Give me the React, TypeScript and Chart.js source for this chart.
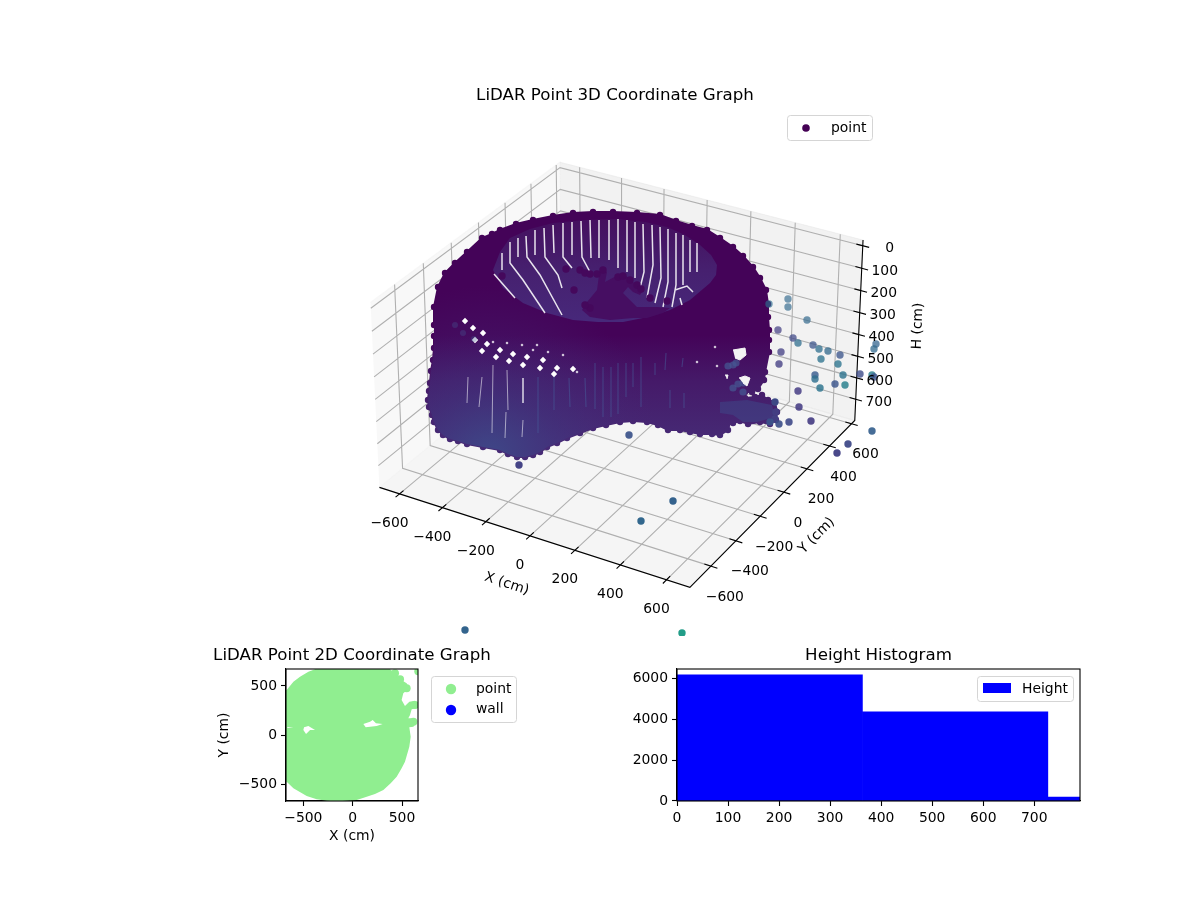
import { useEffect, useRef } from 'react';
import { Chart, registerables } from 'chart.js';

Chart.register(...registerables);
Chart.defaults.font.family = '"DejaVu Sans", sans-serif';
Chart.defaults.color = '#000';

type Pair = [number, number];

// axis ticks and limits of the 3D box (H axis runs downwards)
const xTicks = [-600, -400, -200, 0, 200, 400, 600];
const yTicks = [-600, -400, -200, 0, 200, 400, 600];
const hTicks = [0, 100, 200, 300, 400, 500, 600, 700];
const xLim: Pair = [-695, 700];
const yLim: Pair = [-764, 630];
const hLim: Pair = [800, -25];

// the dense cloud in view-plane units of the 3D plot
const bodyOutline: Pair[] = [
  [-187, 39], [-187, 57], [-183, 77], [-176, 91], [-166, 101], [-154, 112], [-139, 126], [-129, 130],
  [-121, 134], [-105, 140], [-88, 144], [-68, 148], [-48, 151], [-28, 152], [-8, 152], [16, 151],
  [39, 149], [55, 143], [71, 138], [86, 134], [99, 126], [112, 117], [122, 108], [132, 97],
  [139, 86], [145, 74], [147, 60], [147, 47], [148, 34], [148, 24], [148, 12], [144, -8],
  [143, -16], [137, -25], [131, -28], [124, -28], [121, -31], [124, -34], [134, -33], [141, -31],
  [147, -36], [154, -38], [156, -48], [155, -56], [149, -60], [139, -58], [127, -60], [119, -57],
  [112, -59], [106, -61], [107, -66], [99, -71], [91, -70], [79, -70], [69, -68], [59, -66],
  [47, -66], [37, -61], [26, -58], [12, -57], [-1, -58], [-15, -61], [-28, -64], [-41, -69],
  [-54, -74], [-64, -79], [-74, -83], [-81, -88], [-88, -91], [-96, -93], [-104, -93], [-113, -90],
  [-121, -86], [-138, -83], [-154, -80], [-163, -77], [-171, -75], [-178, -71], [-183, -66], [-187, -58],
  [-189, -51], [-192, -43], [-193, -36], [-192, -27], [-191, -19], [-190, -7], [-188, 4], [-187, 16], [-187, 28],
];
const holeOutline: Pair[] = [
  [-111, 126], [-91, 135], [-68, 141], [-36, 144], [-4, 145], [24, 142], [46, 137], [64, 129],
  [79, 119], [90, 109], [96, 99], [95, 89], [89, 81], [69, 64], [49, 54], [27, 47],
  [2, 42], [-23, 42], [-48, 44], [-74, 51], [-98, 61], [-118, 76], [-128, 94], [-121, 112],
];
const moundOutline: Pair[] = [
  [-21, 96], [-14, 92], [-16, 82], [-3, 89], [2, 91], [12, 82], [22, 74], [19, 69], [12, 72], [7, 77],
  [2, 71], [16, 57], [36, 57], [49, 56], [42, 51], [26, 46], [12, 46], [-11, 44], [-31, 47], [-39, 54],
  [-34, 62], [-24, 74],
];
const moundDots: Pair[] = [
  [-55, 95], [-47, 74], [-41, 94], [-36, 91], [-31, 90], [-24, 90], [-18, 94], [-119, 88], [29, 66], [46, 63],
  [-3, 87], [2, 88], [9, 84], [16, 79], [20, 75], [-31, 56], [-36, 59],
];
const holeStreaks: Pair[][] = [
  [[-127, 90], [-106, 66]],
  [[-119, 111], [-119, 94]],
  [[-111, 122], [-111, 101], [-98, 84], [-76, 51]],
  [[-103, 126], [-103, 107]],
  [[-95, 128], [-94, 107], [-81, 89], [-59, 49]],
  [[-86, 134], [-86, 109]],
  [[-77, 136], [-76, 107], [-63, 89], [-59, 76]],
  [[-68, 139], [-67, 111]],
  [[-58, 141], [-58, 107], [-49, 96]],
  [[-49, 142], [-49, 109]],
  [[-40, 143], [-39, 107], [-31, 92]],
  [[-31, 144], [-30, 106]],
  [[-22, 144], [-22, 106]],
  [[-12, 144], [-12, 104]],
  [[-3, 145], [-3, 96]],
  [[6, 144], [6, 92]],
  [[14, 142], [14, 86]],
  [[22, 140], [23, 92], [19, 76]],
  [[31, 139], [32, 99], [26, 66]],
  [[39, 137], [40, 86], [34, 61]],
  [[47, 135], [47, 82], [42, 57]],
  [[55, 131], [55, 79], [51, 57]],
  [[62, 129], [62, 79]],
  [[69, 124], [69, 92]],
  [[76, 121], [76, 92]],
  [[54, 74], [66, 78], [72, 72]],
  [[59, 66], [61, 59]],
];
const wallGapsLarge: Pair[] = [
  [-156, 43], [-148, 36], [-138, 31], [-146, 24], [-134, 20], [-139, 13], [-121, 14], [-125, 7], [-108, 10],
  [-112, 3], [-94, 7], [-98, -1], [-78, 4], [-81, -4], [-64, -4], [-48, -5], [-67, -10],
];
const wallGapsSmall: Pair[] = [
  [-84, 19], [-99, 19], [-114, 21], [-88, 14], [-73, 12], [-58, 9], [-44, -8], [-128, 22], [96, -2], [94, 17], [76, 2],
];
const wallWhiteStreaks: Pair[][] = [
  [[-128, -1], [-129, -69]],
  [[-115, -48], [-116, -74]],
  [[-139, -13], [-142, -43]],
  [[-153, -13], [-154, -39]],
  [[-114, -6], [-113, -46]],
  [[-98, -14], [-98, -39]],
  [[-98, -56], [-99, -73]],
];
const wallBlueStreaks: Pair[][] = [
  [[-83, -13], [-83, -69]], [[-67, -11], [-67, -46]], [[-52, -14], [-51, -43]], [[-36, -14], [-35, -43]],
  [[-26, 1], [-26, -45]], [[-18, -3], [-18, -53]], [[-10, -3], [-10, -53]], [[-3, 1], [-3, -50]],
  [[5, 1], [5, -33]], [[12, 1], [12, -23]], [[20, 7], [20, -43]], [[34, 1], [34, -11]], [[45, 11], [44, -6]],
  [[49, -26], [49, -44]], [[62, 6], [61, -3]], [[63, -29], [63, -44]],
];
const bayGaps: Pair[][] = [
  [[112, 14], [124, 16], [125, 9], [119, 4], [114, 6]],
  [[118, -14], [124, -12], [129, -14], [126, -22], [122, -19]],
  [[104, -11], [107, -11], [106, -15]],
];
const bayDots: Pair[] = [[112, -1], [115, 1], [107, -2], [117, -20], [122, -19], [122, -28], [112, -24]];
const wallDots: Pair[] = [[-166, 39], [-158, 31], [-147, 25]];
const noseOutline: Pair[] = [
  [99, -38], [126, -36], [151, -41], [154, -53], [136, -58], [122, -58], [112, -51], [99, -49],
];

// scattered points away from the cloud: view-plane position and height tone
const outlierX = [
  167, 167, 148, 186, 157, 172, 177, 192, 198, 207, 255, 253, 160, 158, 219, 200, 217, 194, 194, 222, 239, 251,
  253, 214, 224, 199, 177, 178, 154, 155, 154, 149, 158, 168, 190, 251, 227, 216, 52, 20, -102, 8, -156, 61,
];
const outlierY = [
  65, 57, 60, 44, 34, 26, 21, 19, 15, 13, 20, 15, 12, 0, 9, 5, 0, -11, -15, -11, -10, -11,
  -13, -20, -21, -24, -27, -43, -38, -48, -55, -58, -60, -58, -57, -67, -80, -89, -137, -157, -101, -71, -266, -269,
];
const outlierTone = [
  0.34, 0.34, 0.36, 0.34, 0.18, 0.22, 0.36, 0.26, 0.36, 0.34, 0.32, 0.34, 0.18, 0.18, 0.26, 0.38, 0.38, 0.28, 0.36, 0.38, 0.23, 0.42,
  0.24, 0.26, 0.43, 0.38, 0.17, 0.17, 0.24, 0.19, 0.19, 0.26, 0.24, 0.22, 0.17, 0.3, 0.22, 0.19, 0.31, 0.33, 0.19, 0.25, 0.32, 0.55,
];

// 2D footprint in cm
const footprint: Pair[] = [
  [-736, 459], [-669, 459], [-601, 544], [-534, 595], [-449, 646], [-382, 670], [-382, 731], [378, 731], [378, 670],
  [429, 629], [480, 568], [547, 527], [574, 476], [513, 425], [496, 357], [530, 296], [574, 340], [632, 350],
  [665, 306], [648, 272], [598, 262], [581, 204], [564, 170], [588, 170], [655, 136], [615, 85], [574, 78],
  [588, -17], [574, -119], [530, -272], [496, -340], [446, -425], [385, -493], [311, -561], [226, -602], [142, -629],
  [41, -663], [-61, -670], [-162, -677], [-263, -670], [-365, -656], [-466, -622], [-601, -544], [-669, -476], [-736, -476],
];
const footprintHoles: Pair[][] = [
  [[-493, 78], [-449, 92], [-382, 51], [-432, 51], [-473, 10], [-500, 51]],
  [[-662, 82], [-601, 82], [-662, 71]],
  [[108, 112], [176, 136], [203, 153], [236, 119], [304, 112], [243, 92], [176, 85], [132, 78]],
];
const footprintBumps: Pair[] = [[429, 629], [480, 568], [547, 476], [632, 306], [615, 136], [665, 650]];
const flatTicks = [-500, 0, 500];

// height histogram
const binCenters = [181.65, 544.95, 908.25];
const binCounts = [6161, 4352, 196];
const histXTicks = [0, 100, 200, 300, 400, 500, 600, 700];
const histYTicks = [0, 2000, 4000, 6000];

const TICK_FONT = '13.9px "DejaVu Sans"';
const TITLE_FONT = '16.67px "DejaVu Sans"';

const toPts = (list: Pair[]) => list.map(([x, y]) => ({ x, y }));
const withBreaks = (lines: { x: number; y: number }[][]) =>
  lines.flatMap((l) => [...l, { x: NaN, y: NaN }]);

// same camera as a default mplot3d view: elev 30, azim -60, dist 10
function project(x: number, y: number, h: number) {
  const qx = ((x - xLim[0]) / (xLim[1] - xLim[0]) - 0.5) * 1.19;
  const qy = ((y - yLim[0]) / (yLim[1] - yLim[0]) - 0.5) * 1.19;
  const qz = ((h - hLim[0]) / (hLim[1] - hLim[0]) - 0.5) * 0.71;
  const u = 0.866 * qx + 0.5 * qy;
  const v = -0.25 * qx + 0.433 * qy + 0.866 * qz;
  const d = 10 - (0.433 * qx - 0.75 * qy + 0.5 * qz);
  return { x: 0.5 + (2975 * u) / d, y: 0.4 + (2970 * v) / d };
}

const viridisStops = ['#440154', '#482475', '#414487', '#355f8d', '#2a788e', '#21918c', '#22a884', '#44bf70', '#7ad151', '#bddf26', '#fde725'];
function viridis(t: number, alpha: number) {
  const p = Math.min(Math.max(t, 0), 1) * 10;
  const i = Math.min(Math.floor(p), 9);
  const rgb = (s: string) => [1, 3, 5].map((k) => parseInt(s.slice(k, k + 2), 16));
  const a = rgb(viridisStops[i]);
  const b = rgb(viridisStops[i + 1]);
  const c = a.map((va, k) => Math.round(va + (b[k] - va) * (p - i)));
  return `rgba(${c[0]},${c[1]},${c[2]},${alpha})`;
}

function legendFrame(ctx: CanvasRenderingContext2D, x: number, y: number, w: number, h: number) {
  ctx.beginPath();
  ctx.roundRect(x + 0.5, y + 0.5, w, h, 3);
  ctx.fillStyle = 'rgba(255,255,255,0.8)';
  ctx.fill();
  ctx.strokeStyle = '#d5d5d5';
  ctx.lineWidth = 1;
  ctx.stroke();
}

function text(ctx: CanvasRenderingContext2D, s: string, x: number, y: number, font = TICK_FONT, align: CanvasTextAlign = 'center', rot = 0) {
  ctx.save();
  ctx.translate(x, y);
  ctx.rotate((rot * Math.PI) / 180);
  ctx.font = font;
  ctx.fillStyle = '#000';
  ctx.textAlign = align;
  ctx.textBaseline = 'middle';
  ctx.fillText(s, 0, 1);
  ctx.restore();
}

const minus = (v: number) => (v < 0 ? `\u2212${-v}` : `${v}`);

// text of the 3D axes, placed from the chart's own scales
const box3dText = {
  id: 'box3dText',
  afterDraw(chart: any) {
    const { ctx, scales } = chart;
    const put = (p: { x: number; y: number }, dx: number, dy: number, s: string) =>
      text(ctx, s, scales.x.getPixelForValue(p.x) + dx, scales.y.getPixelForValue(p.y) + dy);
    xTicks.forEach((t) => put(project(t, yLim[0], hLim[0]), -10, 28.5, minus(t)));
    yTicks.forEach((t) => put(project(xLim[1], t, hLim[0]), 14, 30, minus(t)));
    hTicks.forEach((t) => put(project(xLim[1], yLim[1], t), t === 0 ? 27 : 23, 2, `${t}`));
    text(ctx, 'LiDAR Point 3D Coordinate Graph', 615, 95, TITLE_FONT);
    text(ctx, 'X (cm)', 507, 583, TICK_FONT, 'center', 18);
    text(ctx, 'Y (cm)', 816, 535, TICK_FONT, 'center', -45);
    text(ctx, 'H (cm)', 917, 326, TICK_FONT, 'center', -88);
    legendFrame(ctx, 787, 115, 85, 25);
    ctx.beginPath();
    ctx.arc(806, 128, 3.8, 0, Math.PI * 2);
    ctx.fillStyle = '#440154';
    ctx.fill();
    text(ctx, 'point', 831, 127, TICK_FONT, 'left');
  },
};

const frameBox = {
  id: 'frameBox',
  afterDatasetsDraw(chart: any) {
    const { ctx, chartArea: a } = chart;
    ctx.save();
    ctx.strokeStyle = '#000';
    ctx.lineWidth = 1.1;
    ctx.strokeRect(a.left, a.top, a.right - a.left, a.bottom - a.top);
    ctx.restore();
  },
};

const flatLegend = {
  id: 'flatLegend',
  afterDraw(chart: any) {
    const { ctx } = chart;
    text(ctx, 'LiDAR Point 2D Coordinate Graph', 185, 15, TITLE_FONT);
    legendFrame(ctx, 264, 36, 85, 46);
    ctx.beginPath();
    ctx.arc(284, 49, 5.2, 0, Math.PI * 2);
    ctx.fillStyle = 'lightgreen';
    ctx.fill();
    ctx.beginPath();
    ctx.arc(284, 70, 5.2, 0, Math.PI * 2);
    ctx.fillStyle = 'blue';
    ctx.fill();
    text(ctx, 'point', 309, 48, TICK_FONT, 'left');
    text(ctx, 'wall', 309, 68, TICK_FONT, 'left');
  },
};

const histLegend = {
  id: 'histLegend',
  afterDraw(chart: any) {
    const { ctx } = chart;
    legendFrame(ctx, 357, 36, 96, 25);
    ctx.fillStyle = 'blue';
    ctx.fillRect(363, 43, 28, 10);
    text(ctx, 'Height', 402, 48, TICK_FONT, 'left');
  },
};

function cloudConfig(canvas: HTMLCanvasElement) {
  const g = canvas.getContext('2d')!;
  const bodyFill = g.createLinearGradient(0, 335, 0, 440);
  bodyFill.addColorStop(0, '#440358');
  bodyFill.addColorStop(0.45, '#451a69');
  bodyFill.addColorStop(1, '#462a75');
  const leftGlow = g.createRadialGradient(490, 455, 10, 490, 455, 170);
  leftGlow.addColorStop(0, 'rgba(60,78,140,0.7)');
  leftGlow.addColorStop(0.35, 'rgba(62,62,132,0.42)');
  leftGlow.addColorStop(1, 'rgba(70,40,120,0)');
  const holeFill = g.createLinearGradient(0, 220, 0, 320);
  holeFill.addColorStop(0, '#45105f');
  holeFill.addColorStop(0.5, '#46206f');
  holeFill.addColorStop(1, '#47287a');

  const floor = hLim[0];
  const roof = hLim[1];
  const [x0, x1] = xLim;
  const [y0, y1] = yLim;
  const shape = (pts: any[], color: any, edge = 0) => ({
    data: pts, showLine: true, fill: 'shape', backgroundColor: color, borderColor: color,
    borderWidth: edge, pointRadius: 0,
  });
  const lines = (pts: any[], color: string, width: number) => ({
    data: pts, showLine: true, fill: false, borderColor: color, borderWidth: width, pointRadius: 0,
  });

  const gridPts = [
    ...xTicks.flatMap((t) => [project(t, y0, floor), project(t, y1, floor), project(t, y1, roof), { x: NaN, y: NaN }]),
    ...yTicks.flatMap((t) => [project(x1, t, floor), project(x0, t, floor), project(x0, t, roof), { x: NaN, y: NaN }]),
    ...hTicks.flatMap((t) => [project(x0, y0, t), project(x0, y1, t), project(x1, y1, t), { x: NaN, y: NaN }]),
  ];
  const tickPts = [
    ...xTicks.flatMap((t) => [project(t, y0 - 28, floor), project(t, y0 + 28, floor), { x: NaN, y: NaN }]),
    ...yTicks.flatMap((t) => [project(x1 - 28, t, floor), project(x1 + 28, t, floor), { x: NaN, y: NaN }]),
    ...hTicks.flatMap((t) => [project(x1 - 28, y1, t), project(x1 + 28, y1, t), { x: NaN, y: NaN }]),
  ];
  const axisPts = [
    project(x0, y0, floor), project(x1, y0, floor), project(x1, y1, floor), project(x1, y1, roof),
  ];

  // paint order, back to front
  const layers: any[] = [
    shape([project(x0, y0, floor), project(x0, y1, floor), project(x0, y1, roof), project(x0, y0, roof)], 'rgba(242,242,242,0.5)', 1.1),
    shape([project(x0, y1, floor), project(x1, y1, floor), project(x1, y1, roof), project(x0, y1, roof)], 'rgba(230,230,230,0.5)', 1.1),
    shape([project(x0, y0, floor), project(x1, y0, floor), project(x1, y1, floor), project(x0, y1, floor)], 'rgba(236,236,236,0.5)', 1.1),
    lines(gridPts, '#b0b0b0', 1.1),
    lines(axisPts, '#000', 1.1),
    lines(tickPts, '#000', 1.1),
    {
      ...shape(toPts(bodyOutline), bodyFill, 2),
      pointRadius: 3.2, pointBackgroundColor: bodyFill, pointBorderWidth: 0,
    },
    shape(toPts(bodyOutline), leftGlow),
    shape(toPts(noseOutline), 'rgba(62,74,137,0.5)'),
    lines(withBreaks(wallBlueStreaks.map(toPts)), 'rgba(70,100,160,0.45)', 1.2),
    lines(withBreaks(wallWhiteStreaks.map(toPts)), 'rgba(255,255,255,0.55)', 1),
    { data: toPts(bayDots), pointRadius: 3.6, pointBackgroundColor: 'rgba(70,85,145,0.75)', pointBorderWidth: 0 },
    ...bayGaps.map((b) => shape(toPts(b), '#f4f4f4', 1)),
    { data: toPts(wallGapsLarge), pointStyle: 'rectRot', pointRadius: 3.2, pointBackgroundColor: '#fff', pointBorderWidth: 0 },
    { data: toPts(wallGapsSmall), pointStyle: 'rectRot', pointRadius: 1.5, pointBackgroundColor: 'rgba(255,255,255,0.85)', pointBorderWidth: 0 },
    { data: toPts(wallDots), pointRadius: 3, pointBackgroundColor: 'rgba(70,85,145,0.35)', pointBorderWidth: 0 },
    shape(toPts(holeOutline), holeFill),
    lines(withBreaks(holeStreaks.map(toPts)), 'rgba(255,255,255,0.88)', 1.5),
    shape(toPts(moundOutline), '#460e62'),
    { data: toPts(moundDots), pointRadius: 3.7, pointBackgroundColor: '#45085c', pointBorderWidth: 0 },
    {
      data: outlierX.map((x, i) => ({ x, y: outlierY[i] })),
      pointRadius: 3.7,
      pointBorderWidth: 0,
      pointBackgroundColor: (c: any) => {
        const i = c.dataIndex;
        return viridis(outlierTone[i], Math.min(1, 0.66 + (-outlierY[i] + 60) / 500));
      },
    },
  ];
  layers.forEach((l, i) => { l.order = layers.length - i; });

  return {
    type: 'scatter' as const,
    data: { datasets: layers },
    plugins: [box3dText],
    options: {
      animation: false as const,
      responsive: false,
      events: [],
      layout: { padding: 0, autoPadding: false },
      plugins: { legend: { display: false }, tooltip: { enabled: false } },
      scales: {
        x: { type: 'linear' as const, min: -621, max: 579, display: false },
        y: { type: 'linear' as const, min: -272, max: 364, display: false },
      },
    },
  };
}

function flatConfig() {
  const tickFont = { size: 13.9 };
  const fixedTicks = (vals: number[]) => (s: any) => { s.ticks = vals.map((value) => ({ value })); };
  return {
    type: 'scatter' as const,
    plugins: [frameBox, flatLegend],
    data: {
      datasets: [
        ...footprintHoles.map((h) => ({
          data: toPts(h), showLine: true, fill: 'shape', backgroundColor: '#fff', borderWidth: 0, pointRadius: 0, order: 1,
        })),
        {
          data: toPts(footprintBumps), pointRadius: 4, pointBackgroundColor: 'lightgreen', pointBorderWidth: 0, order: 2,
        },
        {
          data: toPts(footprint), showLine: true, fill: 'shape', backgroundColor: 'lightgreen', borderWidth: 0, pointRadius: 0, order: 3,
        },
      ],
    },
    options: {
      animation: false as const,
      responsive: false,
      events: [],
      layout: { padding: { left: 49, right: 119, top: 29, bottom: 14 }, autoPadding: false },
      plugins: { legend: { display: false }, tooltip: { enabled: false } },
      scales: {
        x: {
          type: 'linear' as const, min: -676, max: 662,
          afterBuildTicks: fixedTicks(flatTicks),
          afterFit: (s: any) => { s.height = 45; },
          grid: { drawOnChartArea: false, tickLength: 5, tickColor: '#000', tickWidth: 1.1 },
          border: { color: '#000', width: 1.1 },
          ticks: { font: tickFont, color: '#000', padding: 4, maxRotation: 0, autoSkip: false, callback: (v: any) => minus(v) },
          title: { display: true, text: 'X (cm)', color: '#000', font: tickFont, padding: { top: 0, bottom: 1 } },
        },
        y: {
          type: 'linear' as const, min: -673, max: 673,
          afterBuildTicks: fixedTicks(flatTicks),
          afterFit: (s: any) => { s.width = 70; },
          grid: { drawOnChartArea: false, tickLength: 5, tickColor: '#000', tickWidth: 1.1 },
          border: { color: '#000', width: 1.1 },
          ticks: { font: tickFont, color: '#000', padding: 4, autoSkip: false, callback: (v: any) => minus(v) },
          title: { display: true, text: 'Y (cm)', color: '#000', font: tickFont, padding: { top: 0, bottom: 1 } },
        },
      },
    },
  };
}

function histConfig() {
  const tickFont = { size: 13.9 };
  const xMax = 789.6;
  const fixedTicks = (vals: number[]) => (s: any) => { s.ticks = vals.map((value) => ({ value })); };
  return {
    type: 'bar' as const,
    plugins: [frameBox, histLegend],
    data: {
      datasets: [
        {
          label: 'Height',
          data: binCenters.map((x, i) => ({ x, y: binCounts[i] })),
          backgroundColor: 'blue',
          borderWidth: 0,
          barThickness: (403 * (binCenters[1] - binCenters[0])) / xMax,
        },
      ],
    },
    options: {
      animation: false as const,
      responsive: false,
      events: [],
      layout: { padding: { left: 7, right: 20, top: 3, bottom: 14 }, autoPadding: false },
      plugins: {
        legend: { display: false },
        tooltip: { enabled: false },
        title: {
          display: true, text: 'Height Histogram', fullSize: false, color: '#000',
          font: { size: 16.67, weight: 'normal' as const }, padding: { top: 3, bottom: 3 },
        },
      },
      scales: {
        x: {
          type: 'linear' as const, min: 0, max: xMax, offset: false,
          afterBuildTicks: fixedTicks(histXTicks),
          afterFit: (s: any) => { s.height = 45; },
          grid: { offset: false, drawOnChartArea: false, tickLength: 5, tickColor: '#000', tickWidth: 1.1 },
          border: { color: '#000', width: 1.1 },
          ticks: { font: tickFont, color: '#000', padding: 4, maxRotation: 0, autoSkip: false },
        },
        y: {
          type: 'linear' as const, min: 0, max: 6440,
          afterBuildTicks: fixedTicks(histYTicks),
          afterFit: (s: any) => { s.width = 50; },
          grid: { drawOnChartArea: false, tickLength: 5, tickColor: '#000', tickWidth: 1.1 },
          border: { color: '#000', width: 1.1 },
          ticks: { font: tickFont, color: '#000', padding: 4, autoSkip: false, callback: (v: any) => `${v}` },
        },
      },
    },
  };
}

export default function App() {
  const cloudRef = useRef<HTMLCanvasElement>(null);
  const flatRef = useRef<HTMLCanvasElement>(null);
  const histRef = useRef<HTMLCanvasElement>(null);

  useEffect(() => {
    const charts = [
      new Chart(cloudRef.current!, cloudConfig(cloudRef.current!) as any),
      new Chart(flatRef.current!, flatConfig() as any),
      new Chart(histRef.current!, histConfig() as any),
    ];
    return () => charts.forEach((c) => c.destroy());
  }, []);

  return (
    <div style={{ position: 'absolute', left: 0, top: 0, width: 1200, height: 900, background: '#fff', overflow: 'hidden' }}>
      <canvas ref={cloudRef} width={1200} height={636} style={{ position: 'absolute', left: 0, top: 0 }} />
      <canvas ref={flatRef} width={370} height={220} style={{ position: 'absolute', left: 167, top: 640 }} />
      <canvas ref={histRef} width={480} height={220} style={{ position: 'absolute', left: 620, top: 640 }} />
    </div>
  );
}
